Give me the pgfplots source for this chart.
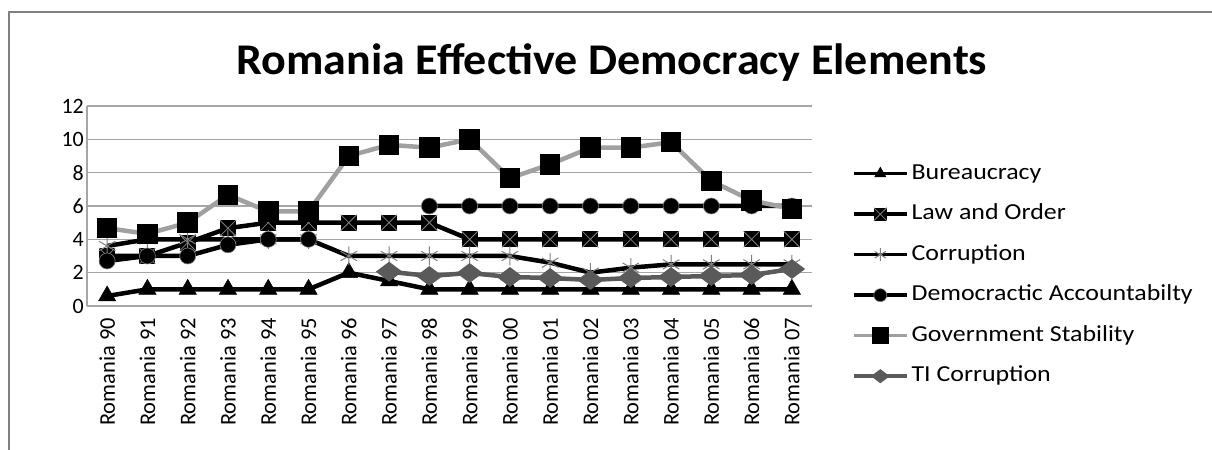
\documentclass[border=0pt]{standalone}
\usepackage{fontspec}
\setmainfont{Carlito}
\newfontfamily\titlefont[FakeStretch=1.05]{Carlito}
\newfontfamily\legfont[FakeStretch=1.13]{Carlito}
\usepackage{pgfplots}
\usepackage{pgfplotstable}
\pgfplotsset{compat=1.18}
\definecolor{gridc}{HTML}{A6A6A6}
\definecolor{gsline}{HTML}{A0A0A0}
\definecolor{tic}{HTML}{5A5A5A}

\pgfdeclareplotmark{xsq}{%
  \pgfpathrectangle{\pgfpoint{-\pgfplotmarksize}{-\pgfplotmarksize}}{\pgfpoint{2\pgfplotmarksize}{2\pgfplotmarksize}}%
  \pgfusepathqfill
  \pgfsetstrokecolor{gray}\pgfsetlinewidth{0.8bp}%
  \pgfpathmoveto{\pgfpoint{-\pgfplotmarksize}{-\pgfplotmarksize}}\pgfpathlineto{\pgfpoint{\pgfplotmarksize}{\pgfplotmarksize}}%
  \pgfpathmoveto{\pgfpoint{-\pgfplotmarksize}{\pgfplotmarksize}}\pgfpathlineto{\pgfpoint{\pgfplotmarksize}{-\pgfplotmarksize}}%
  \pgfusepathqstroke
}

\pgfplotstableread{
x bur lo cor da gs ti
0 0.6 3 3.6 2.7 4.67 nan
1 1 3 4 3 4.33 nan
2 1 3.8 4 3 5 nan
3 1 4.67 4 3.67 6.67 nan
4 1 5 4 4 5.67 nan
5 1 5 4 4 5.67 nan
6 2 5 3 nan 9 nan
7 1.5 5 3 nan 9.67 2.06
8 1 5 3 6 9.5 1.8
9 1 4 3 6 10 1.98
10 1 4 3 6 7.67 1.74
11 1 4 2.6 6 8.5 1.68
12 1 4 2 6 9.5 1.56
13 1 4 2.3 6 9.5 1.68
14 1 4 2.5 6 9.83 1.74
15 1 4 2.5 6 7.5 1.8
16 1 4 2.5 6 6.33 1.86
17 1 4 2.5 6 5.83 2.22
}\datatable

\begin{document}
\begin{tikzpicture}
\useasboundingbox (0bp,0bp) rectangle (1212bp,450bp);
\draw[gray, line width=1.5bp] (9bp,0bp) -- (9bp,438bp) -- (1212bp,438bp);
\node[font=\titlefont\bfseries\fontsize{44}{50}\selectfont] at (612bp,387bp) {Romania Effective Democracy Elements};
\begin{axis}[
  at={(87bp,144bp)}, anchor=south west,
  scale only axis, width=725bp, height=200bp,
  xmin=-0.5, xmax=17.5, ymin=0, ymax=12,
  xtick={0,...,17},
  xticklabels={Romania 90,Romania 91,Romania 92,Romania 93,Romania 94,Romania 95,Romania 96,Romania 97,Romania 98,Romania 99,Romania 00,Romania 01,Romania 02,Romania 03,Romania 04,Romania 05,Romania 06,Romania 07},
  ytick={0,2,...,12},
  axis x line*=bottom, axis y line*=left,
  axis line style={gridc, line width=1.2bp, -},
  ymajorgrids, grid style={gridc, line width=1.2bp},
  xtick style={draw=none}, ytick style={draw=none},
  major tick length=0bp,
  /pgf/number format/assume math mode=true,
  xticklabel style={rotate=90, anchor=east, inner sep=0pt, font=\fontsize{22.5}{24}\selectfont},
  xticklabel shift=12bp,
  yticklabel style={anchor=east, inner sep=0pt, font=\fontsize{22}{24}\selectfont},
  yticklabel shift=3bp,
  unbounded coords=jump,
  clip=false,
  legend cell align=left,
  legend style={at={(1.055,0.72)}, anchor=north west, draw=none, fill=none,
    font=\legfont\fontsize{23}{26}\selectfont, inner sep=0pt,
    row sep=17.5bp,
    nodes={inner sep=0pt, text height=17bp, text depth=6bp},
    /tikz/every odd column/.append style={column sep=3bp}},
  legend image code/.code={\draw[mark repeat=2, mark phase=2, line width=3.5bp, mark size=6.5bp] plot coordinates {(0bp,0bp) (26.5bp,0bp) (53bp,0bp)};},
]
\addplot[black, line width=4.5bp, mark=triangle*, mark size=10bp, mark options={solid, fill=black, line width=0.5bp}] table[x=x,y=bur]{\datatable};
\addlegendentry{Bureaucracy}
\addplot[black, line width=4.5bp, mark=xsq, mark size=8bp, mark options={solid, fill=black}] table[x=x,y=lo]{\datatable};
\addlegendentry{Law and Order}
\addplot[black, line width=4.5bp, mark=asterisk, mark size=9.5bp, mark options={solid, draw=gray, line width=1bp}] table[x=x,y=cor]{\datatable};
\addlegendentry{Corruption}
\addplot[black, line width=4.5bp, mark=*, mark size=8bp, mark options={solid, fill=black, draw=gray, line width=0.6bp}] table[x=x,y=da]{\datatable};
\addlegendentry{Democractic Accountabilty}
\addplot[gsline, line width=4.5bp, mark=square*, mark size=8bp, mark options={solid, fill=black, draw=black}] table[x=x,y=gs]{\datatable};
\addlegendentry{Government Stability}
\addplot[tic, line width=4.5bp, mark=diamond*, mark size=9.5bp, mark options={solid, fill=tic, draw=tic, rotate=90}] table[x=x,y=ti]{\datatable};
\addlegendentry{TI Corruption}
\end{axis}
\end{tikzpicture}
\end{document}
